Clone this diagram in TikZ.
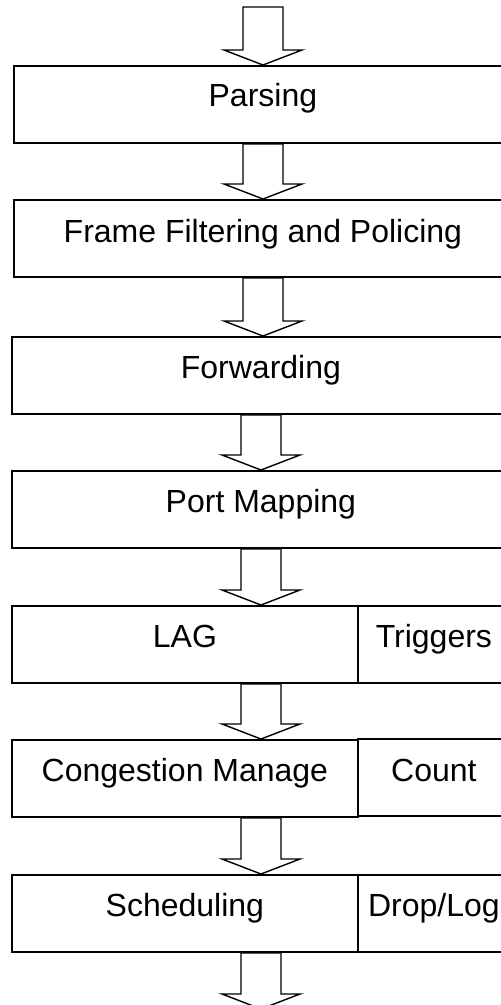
\documentclass[tikz,border=0pt]{standalone}
\usepackage{fontspec}
\setmainfont{Liberation Sans}
\usetikzlibrary{calc}

% hollow block arrow: #1 axis coordinate, #2 start point, #3 tip point
\newcommand{\flowarrow}[3]{%
  \draw[blockarrow]
    ($(#1 |- #2)+(-20,0)$) -- ($(#1 |- #3)+(-20,-15)$) -- ($(#1 |- #3)+(-39,-15)$)
    -- (#1 |- #3)
    -- ($(#1 |- #3)+(39,-15)$) -- ($(#1 |- #3)+(20,-15)$) -- ($(#1 |- #2)+(20,0)$) -- cycle;}

\begin{document}
\begin{tikzpicture}[x=1pt,y=-1pt,
  stage/.style={draw, line width=1.8pt, minimum height=77pt, inner sep=0pt, anchor=north west},
  wide/.style={stage, minimum width=498pt},
  mainpart/.style={stage, minimum width=346pt},
  sidepart/.style={stage, minimum width=152pt},
  lbl/.style={font=\fontsize{32}{38}\selectfont, anchor=base, inner sep=0pt},
  blockarrow/.style={draw, line width=1.4pt, line join=miter}]

\useasboundingbox (0,0) rectangle (501,1005);

% flow axes
\coordinate (axisA) at (263,0);
\coordinate (axisB) at (261,0);
\coordinate (src) at (263,7);
\coordinate (sink) at (261,1009);

% stages
\node[wide] (b1) at (13,65) {};
\node[wide] (b2) at (13,199) {};
\node[wide] (b3) at (11,336) {};
\node[wide] (b4) at (11,470) {};
\node[mainpart] (b5) at (11,605) {};
\node[sidepart] (s5) at (357,605) {};
\node[mainpart] (b6) at (11,739) {};
\node[sidepart] (s6) at (357,738) {};
\node[mainpart] (b7) at (11,874) {};
\node[sidepart] (s7) at (357,874) {};

% labels
\node[lbl] (t1) at ([yshift=-41pt]b1.north) {Parsing};
\node[lbl] (t2) at ([yshift=-43pt]b2.north) {Frame Filtering and Policing};
\node[lbl] (t3) at ([yshift=-42pt]b3.north) {Forwarding};
\node[lbl] (t4) at ([yshift=-42pt]b4.north) {Port Mapping};
\node[lbl] (t5) at ([yshift=-42pt]b5.north) {LAG};
\node[lbl] (u5) at ([yshift=-42pt]s5.north) {Triggers};
\node[lbl] (t6) at ([yshift=-42pt]b6.north) {Congestion Manage};
\node[lbl] (u6) at ([yshift=-43pt]s6.north) {Count};
\node[lbl] (t7) at ([yshift=-42pt]b7.north) {Scheduling};
\node[lbl] (u7) at ([yshift=-42pt]s7.north) {Drop/Log};

% arrows between stages
\flowarrow{axisA}{src}{b1.north}
\flowarrow{axisA}{b1.south}{b2.north}
\flowarrow{axisA}{b2.south}{b3.north}
\flowarrow{axisB}{b3.south}{b4.north}
\flowarrow{axisB}{b4.south}{b5.north}
\flowarrow{axisB}{b5.south}{b6.north}
\flowarrow{axisB}{b6.south}{b7.north}
\flowarrow{axisB}{b7.south}{sink}
\end{tikzpicture}
\end{document}
